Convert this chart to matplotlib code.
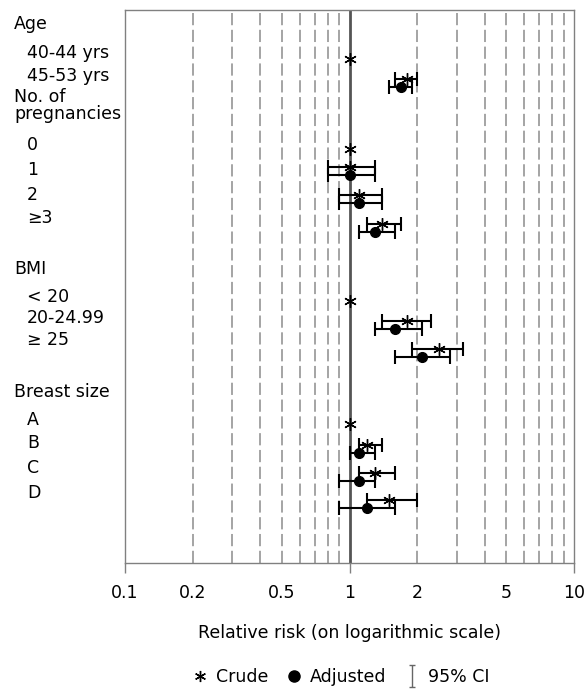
import numpy as np
import matplotlib.pyplot as plt
from matplotlib.lines import Line2D
from matplotlib.path import Path
from matplotlib.markers import MarkerStyle

plt.rcParams['font.family'] = 'DejaVu Sans'
fs = 12.5

# Daten
groups = ["Age", "No. of\npregnancies", "BMI", "Breast size"]
categories = ["40-44 yrs", "45-53 yrs", "0", "1", "2", "\u22653",
              "< 20", "20-24.99", "\u2265 25", "A", "B", "C", "D"]
nan = np.nan
crude = np.array([1.0, 1.8, 1.0, 1.0, 1.1, 1.4, 1.0, 1.8, 2.5, 1.0, 1.2, 1.3, 1.5])
crude_lo = np.array([nan, 1.6, nan, 0.8, 0.9, 1.2, nan, 1.4, 1.9, nan, 1.1, 1.1, 1.2])
crude_hi = np.array([nan, 2.0, nan, 1.3, 1.4, 1.7, nan, 2.3, 3.2, nan, 1.4, 1.6, 2.0])
adjusted = np.array([nan, 1.7, nan, 1.0, 1.1, 1.3, nan, 1.6, 2.1, nan, 1.1, 1.1, 1.2])
adj_lo = np.array([nan, 1.5, nan, 0.8, 0.9, 1.1, nan, 1.3, 1.6, nan, 1.0, 0.9, 0.9])
adj_hi = np.array([nan, 1.9, nan, 1.3, 1.4, 1.6, nan, 2.1, 2.8, nan, 1.3, 1.3, 1.6])

# Layout (pozycje wierszy, os y odwrocona)
group_y = [24, 105.5, 269, 392]
label_y = [53, 76, 145, 170, 195, 218, 297, 318, 340, 420, 443, 468, 493]
crude_y = np.array([59, 79, 149, 167, 195, 224, 301, 321, 349, 424, 445, 473, 500])
adj_y = crude_y + 7.5

fig = plt.figure(figsize=(5.87, 6.93), dpi=100)
ax = fig.add_axes([125 / 587, 1 - 563 / 693, 449 / 587, 553 / 693])
ax.set_xscale('log')
ax.set_xlim(0.1, 10)
ax.set_ylim(563, 10)
ax.set_yticks([])

# Siatka
for d in (0.1, 1):
    for k in range(2, 10):
        ax.axvline(k * d, color='#8c8c8c', lw=1.1, ls=(0, (8, 3)), zorder=1)
ax.axvline(1, color='#555555', lw=2, zorder=1)

# Przedzialy ufnosci
m = ~np.isnan(crude_lo)
ax.errorbar(crude[m], crude_y[m], xerr=[crude[m] - crude_lo[m], crude_hi[m] - crude[m]],
            fmt='none', ecolor='black', elinewidth=1.5, capsize=5, capthick=1.5, zorder=2)
m = ~np.isnan(adj_lo)
ax.errorbar(adjusted[m], adj_y[m], xerr=[adjusted[m] - adj_lo[m], adj_hi[m] - adjusted[m]],
            fmt='none', ecolor='black', elinewidth=1.5, capsize=5, capthick=1.5, zorder=2)

ast = (6, 2, 0)
ax.plot(crude, crude_y, ls='none', marker=ast, ms=9, mec='black', mew=1, zorder=3)
ax.plot(adjusted, adj_y, ls='none', marker='o', ms=7, color='black', zorder=3)

# Etykiety
tr = ax.get_yaxis_transform()
for g, y in zip(groups, group_y):
    ax.text(-0.247, y, g, transform=tr, va='center', ha='left', fontsize=fs, linespacing=0.87)
for c, y in zip(categories, label_y):
    ax.text(-0.218, y, c, transform=tr, va='center', ha='left', fontsize=fs)

for s in ax.spines.values():
    s.set_color('#808080')
    s.set_linewidth(1)

ax.set_xticks([0.1, 1, 10], ["0.1", "1", "10"])
ax.set_xticks([0.2, 0.5, 2, 5], ["0.2", "0.5", "2", "5"], minor=True)
ax.tick_params(which='major', length=7, width=1, color='#808080', pad=8, labelsize=fs)
ax.tick_params(which='minor', length=0, pad=15, labelsize=fs)
ax.set_xlabel("Relative risk (on logarithmic scale)", fontsize=fs, va='center')
ax.xaxis.set_label_coords(0.5, (563 - 633) / 553)

# Legenda
ibeam = Path([(-0.27, -1), (0.27, -1), (0, -1), (0, 1), (-0.27, 1), (0.27, 1)],
             [Path.MOVETO, Path.LINETO, Path.MOVETO, Path.LINETO, Path.MOVETO, Path.LINETO])
h1 = Line2D([], [], ls='none', marker=ast, ms=8, mec='black', mew=1)
h2 = Line2D([], [], ls='none', marker='o', ms=8, color='black')
h3 = Line2D([], [], ls='none', marker=MarkerStyle(ibeam), ms=16, mfc='none', mec='#666666', mew=1)
fig.legend([h1, h2, h3], ["Crude", "Adjusted", "95% CI"], loc='center',
           bbox_to_anchor=(0.58, 0.023), ncol=3, frameon=False, fontsize=fs,
           handlelength=1, handletextpad=0.4, columnspacing=1.0)

plt.savefig('out.png', dpi=100)
